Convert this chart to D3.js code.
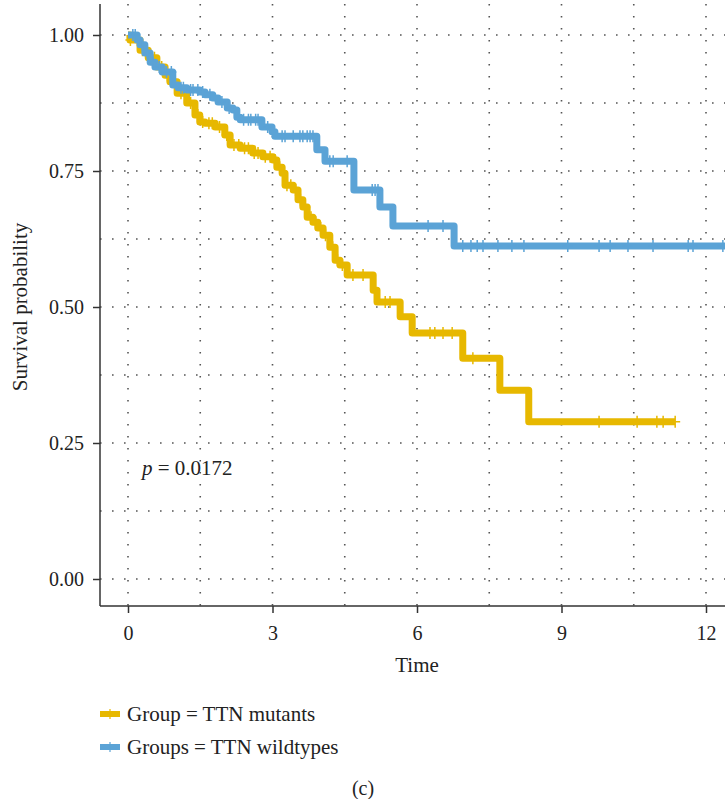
<!DOCTYPE html>
<html>
<head>
<meta charset="utf-8">
<script src="https://cdn.jsdelivr.net/npm/d3@7"></script>
<style>
  body { margin: 0; background: #fff; }
  svg text { font-family: "Liberation Serif", "Times New Roman", serif; fill: #222; }
</style>
</head>
<body>
<div id="km"></div>
<script>
// step points of the survival curves: [time, survival]
var mutantSteps = [
  [0, 1.0], [0.04, 0.991], [0.25, 0.972], [0.42, 0.958], [0.60, 0.941], [0.77, 0.926],
  [0.87, 0.914], [1.02, 0.893], [1.22, 0.875], [1.39, 0.853], [1.49, 0.840], [1.60, 0.838],
  [1.81, 0.831], [2.01, 0.816], [2.12, 0.798], [2.33, 0.792], [2.59, 0.783], [2.80, 0.776],
  [3.01, 0.770], [3.09, 0.757], [3.20, 0.746], [3.26, 0.724], [3.43, 0.715], [3.53, 0.697],
  [3.63, 0.684], [3.72, 0.665], [3.84, 0.656], [3.94, 0.645], [4.05, 0.632], [4.19, 0.610],
  [4.30, 0.586], [4.40, 0.577], [4.55, 0.559], [5.09, 0.531], [5.17, 0.509], [5.65, 0.482],
  [5.90, 0.452], [6.95, 0.406], [7.72, 0.347], [8.32, 0.289], [11.36, 0.289]
];
var wildtypeSteps = [
  [0, 1.0], [0.19, 0.991], [0.25, 0.982], [0.35, 0.967], [0.46, 0.950], [0.56, 0.941],
  [0.71, 0.932], [0.93, 0.908], [1.04, 0.903], [1.22, 0.899], [1.49, 0.895], [1.60, 0.890],
  [1.76, 0.884], [1.87, 0.877], [2.06, 0.866], [2.18, 0.862], [2.26, 0.849], [2.33, 0.844],
  [2.78, 0.831], [2.99, 0.822], [3.05, 0.814], [3.92, 0.789], [4.09, 0.768], [4.69, 0.715],
  [5.23, 0.684], [5.50, 0.649], [6.77, 0.612], [12.6, 0.612]
];

// censoring times (the little + marks)
var mutantCensor = [0.05, 0.2, 0.3, 0.48, 0.55, 0.7, 0.82, 0.95, 1.1, 1.2, 1.3, 1.45, 1.55,
  1.68, 1.75, 1.9, 2.05, 2.2, 2.3, 2.42, 2.5, 2.62, 2.7, 2.85, 2.95, 3.05, 3.15, 3.3, 3.38,
  3.48, 3.58, 3.68, 3.8, 3.9, 4.0, 4.1, 4.25, 4.35, 4.45, 4.67, 4.88, 5.34, 5.44, 6.27, 6.37,
  6.54, 6.73, 7.16, 9.78, 10.57, 10.98, 11.11, 11.36];
var wildtypeCensor = [0.1, 0.15, 0.3, 0.4, 0.52, 0.65, 0.8, 0.9, 1.1, 1.15, 1.3, 1.35, 1.45,
  1.55, 1.7, 1.95, 2.1, 2.4, 2.5, 2.55, 2.65, 2.7, 2.9, 3.2, 3.26, 3.43, 3.57, 3.63, 3.72,
  3.78, 3.84, 4.19, 4.26, 4.55, 5.07, 5.13, 5.19, 6.23, 6.54, 6.95, 7.12, 7.25, 7.37, 7.68,
  7.97, 8.22, 9.13, 9.78, 10.01, 10.38, 10.9, 11.63, 11.73, 12.35];

var xTicks = [0, 3, 6, 9, 12];
var yTicks = [0, 0.25, 0.5, 0.75, 1];
var xGrid = [0, 1.5, 3, 4.5, 6, 7.5, 9, 10.5, 12];
var yGrid = [0, 0.125, 0.25, 0.375, 0.5, 0.625, 0.75, 0.875, 1];

var groups = ["Group = TTN mutants", "Groups = TTN wildtypes"];
var colors = ["#E7B800", "#5BA3D6"];
var pText = "0.0172";

var width = 725, height = 799;

var svg = d3.select("#km")
  .append("svg")
  .attr("width", width)
  .attr("height", height);

var x = d3.scaleLinear().domain([0, 12]).range([128, 706]);
var y = d3.scaleLinear().domain([0, 1]).range([579, 35]);

var panel = {left: 100, right: 725, top: 4, bottom: 606};

// dotted grid
svg.append("g").selectAll("line").data(yGrid).enter().append("line")
  .attr("x1", panel.left).attr("x2", panel.right)
  .attr("y1", function(d) { return y(d); })
  .attr("y2", function(d) { return y(d); })
  .attr("stroke", "#555")
  .attr("stroke-width", 1.6)
  .attr("stroke-dasharray", "1.6,10.4");

svg.append("g").selectAll("line").data(xGrid).enter().append("line")
  .attr("x1", function(d) { return x(d); })
  .attr("x2", function(d) { return x(d); })
  .attr("y1", panel.top).attr("y2", panel.bottom)
  .attr("stroke", "#555")
  .attr("stroke-width", 1.6)
  .attr("stroke-dasharray", "1.6,10.4");

// curves
var line = d3.line()
  .x(function(d) { return x(d[0]); })
  .y(function(d) { return y(d[1]); })
  .curve(d3.curveStepAfter);

function stepValue(steps, t) {
  var s = steps[0][1];
  steps.forEach(function(p) { if (p[0] <= t) s = p[1]; });
  return s;
}

function drawCurve(steps, censor, color) {
  var g = svg.append("g");
  g.append("path")
    .datum(steps)
    .attr("d", line)
    .attr("fill", "none")
    .attr("stroke", color)
    .attr("stroke-width", 7)
    .attr("stroke-linejoin", "round");

  g.selectAll(".cens").data(censor).enter().append("path")
    .attr("class", "cens")
    .attr("d", function(t) {
      var cx = x(t), cy = y(stepValue(steps, t));
      return "M" + cx + "," + (cy - 6) + "V" + (cy + 6) + "M" + (cx - 5) + "," + cy + "H" + (cx + 5);
    })
    .attr("stroke", color)
    .attr("stroke-width", 1.5)
    .attr("fill", "none");
}

drawCurve(mutantSteps, mutantCensor, colors[0]);
drawCurve(wildtypeSteps, wildtypeCensor, colors[1]);

// axes
var xAxis = svg.append("g")
  .attr("transform", "translate(0," + panel.bottom + ")")
  .call(d3.axisBottom(x).tickValues(xTicks).tickSize(7).tickPadding(13).tickFormat(d3.format("d")));
xAxis.select(".domain").attr("d", "M" + panel.left + ",0H" + (panel.right + 5));

var yAxis = svg.append("g")
  .attr("transform", "translate(" + panel.left + ",0)")
  .call(d3.axisLeft(y).tickValues(yTicks).tickSize(7).tickPadding(9).tickFormat(d3.format(".2f")));
yAxis.select(".domain").attr("d", "M0," + panel.top + "V" + panel.bottom);

svg.selectAll(".domain").attr("stroke", "#333").attr("stroke-width", 1.5);
svg.selectAll(".tick line").attr("stroke", "#333").attr("stroke-width", 1.5);
svg.selectAll(".tick text")
  .attr("font-size", 20)
  .attr("font-family", "Liberation Serif, serif")
  .attr("fill", "#222");

// labels
svg.append("text")
  .attr("x", x(6)).attr("y", 672)
  .attr("text-anchor", "middle")
  .attr("font-size", 21)
  .text("Time");

svg.append("text")
  .attr("transform", "translate(27," + y(0.5) + ") rotate(-90)")
  .attr("text-anchor", "middle")
  .attr("font-size", 21)
  .text("Survival probability");

var pLabel = svg.append("text")
  .attr("x", 142).attr("y", 475)
  .attr("font-size", 21);
pLabel.append("tspan").attr("font-style", "italic").text("p");
pLabel.append("tspan").text(" = " + pText);

// legend
var legend = svg.append("g").selectAll("g").data(groups).enter().append("g")
  .attr("transform", function(d, i) { return "translate(100," + (714 + i * 33) + ")"; });

legend.append("line")
  .attr("x1", 0).attr("x2", 20).attr("y1", 0).attr("y2", 0)
  .attr("stroke", function(d, i) { return colors[i]; })
  .attr("stroke-width", 6);
legend.append("line")
  .attr("x1", 10).attr("x2", 10).attr("y1", -5).attr("y2", 5)
  .attr("stroke", function(d, i) { return colors[i]; })
  .attr("stroke-width", 1.2);
legend.append("text")
  .attr("x", 27).attr("y", 7)
  .attr("font-size", 21)
  .text(function(d) { return d; });

svg.append("text")
  .attr("x", 363).attr("y", 795)
  .attr("text-anchor", "middle")
  .attr("font-size", 20)
  .text("(c)");
</script>
</body>
</html>
